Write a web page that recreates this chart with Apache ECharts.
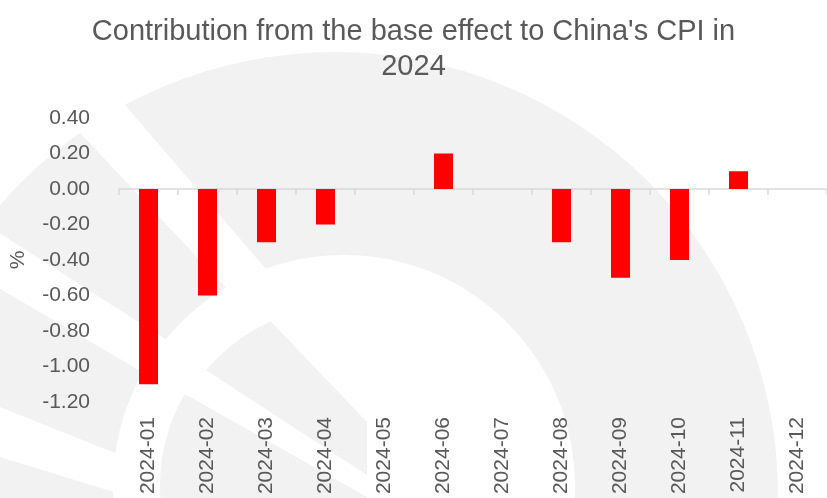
<!DOCTYPE html>
<html>
<head>
<meta charset="utf-8">
<script src="https://cdn.jsdelivr.net/npm/echarts@6/dist/echarts.min.js"></script>
<style>
html,body{margin:0;padding:0;background:#ffffff;}
#chart{width:827px;height:498px;}
</style>
</head>
<body>
<div id="chart"></div>
<script>
// ---- data ----
const categories = ['2024-01','2024-02','2024-03','2024-04','2024-05','2024-06','2024-07','2024-08','2024-09','2024-10','2024-11','2024-12'];
const baseEffect = [-1.1, -0.6, -0.3, -0.2, 0, 0.2, 0, -0.3, -0.5, -0.4, 0.1, 0];
const yMin = -1.2;
const yMax = 0.4;
const yStep = 0.2;
const titleText = "Contribution from the base effect to China's CPI in\n2024";
const yAxisName = '%';

// ---- decorative watermark (background picture of the original) ----
const GREY = '#f2f2f2';
function arcPts(cx, cy, r, a0, a1, n) {
  const pts = [];
  for (let i = 0; i <= n; i++) {
    const a = (a0 + (a1 - a0) * i / n) * Math.PI / 180;
    pts.push([cx + r * Math.cos(a), cy + r * Math.sin(a)]);
  }
  return pts;
}
const ic = [344, 486];
const upperPiece = arcPts(ic[0], ic[1], 180, -140, -114, 20).concat([[367, 422], [367, 475]]);
const lowerPiece = arcPts(ic[0], ic[1], 184, -150, -200, 30).concat([[367, 560], [367, 497]]);
const wm = [
  { type: 'circle', shape: { cx: 335, cy: 495, r: 443 }, style: { fill: GREY }, z: -20 },
  { type: 'polygon', shape: { points: [[51, 19], [297, 305], [258, 322], [2, 50]] }, style: { fill: '#fff' }, z: -19 },
  { type: 'polygon', shape: { points: [[-10, 227], [190, 355], [190, 400], [-10, 283]] }, style: { fill: '#fff' }, z: -19 },
  { type: 'polygon', shape: { points: [[-10, 403], [140, 463], [140, 500], [-10, 454]] }, style: { fill: '#fff' }, z: -19 },
  { type: 'circle', shape: { cx: ic[0], cy: ic[1], r: 231 }, style: { fill: '#fff' }, z: -18 },
  { type: 'polygon', shape: { points: upperPiece }, style: { fill: GREY }, z: -17 },
  { type: 'polygon', shape: { points: lowerPiece }, style: { fill: GREY }, z: -17 }
].map(e => Object.assign({ silent: true }, e));

const TXT = '#595959';
const FONT = "'Liberation Sans', Arial, sans-serif";

const chart = echarts.init(document.getElementById('chart'), null, { renderer: 'canvas' });
chart.setOption({
  backgroundColor: '#ffffff',
  animation: false,
  graphic: { elements: wm },
  title: {
    text: titleText,
    left: 'center',
    top: 9,
    textStyle: { color: TXT, fontSize: 29, fontWeight: 'normal', fontFamily: FONT, lineHeight: 35 }
  },
  grid: { left: 119, right: 0, top: 118, bottom: 96, containLabel: false, outerBoundsMode: 'none' },
  xAxis: [
    {
      type: 'category',
      data: categories,
      position: 'bottom',
      axisLine: { show: false, onZero: false },
      axisTick: { show: false },
      splitLine: { show: false },
      axisLabel: { rotate: 90, interval: 0, margin: 15, fontSize: 21, color: TXT, fontFamily: FONT }
    },
    {
      type: 'category',
      data: categories,
      position: 'top',
      axisLine: { show: true, onZero: true, lineStyle: { color: '#d9d9d9', width: 1.5 } },
      axisTick: { show: true, inside: true, length: 6, lineStyle: { color: '#d9d9d9', width: 1.5 } },
      axisLabel: { show: false },
      splitLine: { show: false }
    }
  ],
  yAxis: {
    type: 'value',
    min: yMin,
    max: yMax,
    interval: yStep,
    name: yAxisName,
    nameLocation: 'middle',
    nameGap: 90,
    nameTextStyle: { color: TXT, fontSize: 21, fontFamily: FONT },
    axisLine: { show: false },
    axisTick: { show: false },
    splitLine: { show: false },
    axisLabel: { margin: 29, fontSize: 21, color: TXT, fontFamily: FONT, formatter: v => v.toFixed(2) }
  },
  series: [{
    type: 'bar',
    data: baseEffect,
    xAxisIndex: 0,
    yAxisIndex: 0,
    barWidth: 19,
    itemStyle: { color: '#ff0000' }
  }]
});
</script>
</body>
</html>
